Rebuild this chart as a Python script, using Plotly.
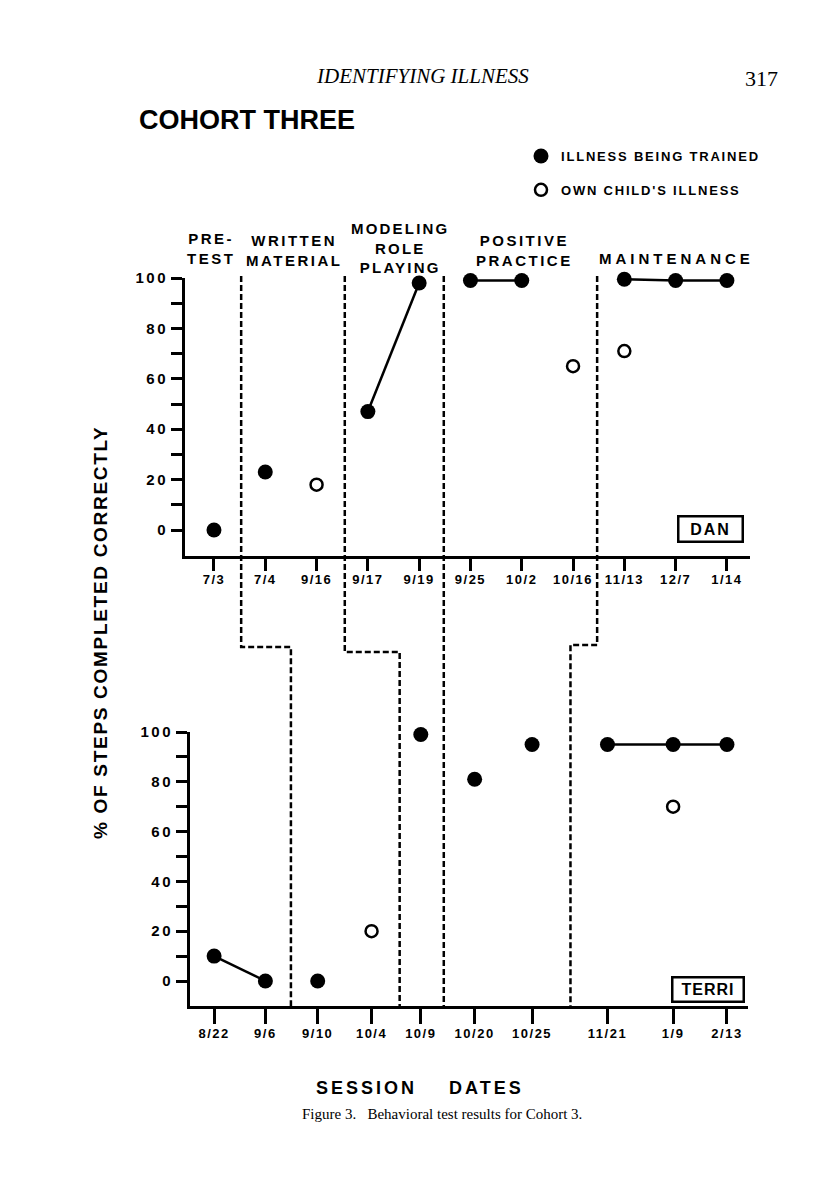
import plotly.graph_objects as go

# ---------------- data ----------------
dan_dates = ["7/3", "7/4", "9/16", "9/17", "9/19", "9/25", "10/2", "10/16", "11/13", "12/7", "1/14"]
dan_pos = [0, 1, 2, 3, 4, 5, 6, 7, 8, 9, 10]
dan_trained = [0, 23, None, 47, 98, 99, 99, None, 99.5, 99, 99]
dan_own = [None, None, 18, None, None, None, None, 65, 71, None, None]
dan_lines = [["9/17", "9/19"], ["9/25", "10/2"], ["11/13", "12/7", "1/14"]]
dan_phase_breaks = [0.53, 2.55, 4.48, 7.47]

terri_dates = ["8/22", "9/6", "9/10", "10/4", "10/9", "10/20", "10/25", "11/21", "1/9", "2/13"]
terri_pos = [0, 1.0, 2.02, 3.07, 4.03, 5.08, 6.2, 7.67, 8.95, 10.0]
terri_trained = [10, 0, 0, None, 99, 81, 95, 95, 95, 95]
terri_own = [None, None, None, 20, None, None, None, None, 70, None]
terri_lines = [["8/22", "9/6"], ["11/21", "1/9", "2/13"]]
terri_phase_breaks = [1.5, 3.62, 4.48, 6.95]

phase_names = ["PRE-<br>TEST", "WRITTEN<br>MATERIAL", "MODELING<br>ROLE<br>PLAYING",
               "POSITIVE<br>PRACTICE", "MAINTENANCE"]
y_ticks = [0, 20, 40, 60, 80, 100]
y_minor = [10, 30, 50, 70, 90]

# ---------------- page geometry helpers ----------------
W, H = 816, 1195


def px(x):
    return x / W


def py(y):
    return 1 - y / H


SANS = "Liberation Sans"
SERIF = "Liberation Serif"


def sp(text, ls):
    return f'<span style="letter-spacing:{ls}px">{text}</span>'


fig = go.Figure()


def add_panel(dates, pos, trained, own, lines, xa, ya, legend):
    lookup = dict(zip(dates, zip(pos, trained)))
    lx, ly = [], []
    for grp in lines:
        for d in grp:
            p, v = lookup[d]
            lx.append(p)
            ly.append(v)
        lx.append(None)
        ly.append(None)
    fig.add_trace(go.Scatter(x=lx, y=ly, mode="lines", line=dict(color="black", width=2.5),
                             xaxis=xa, yaxis=ya, showlegend=False, hoverinfo="skip",
                             cliponaxis=False))
    fig.add_trace(go.Scatter(x=pos, y=trained, mode="markers",
                             marker=dict(symbol="circle", size=15, color="black"),
                             name=sp("<b>ILLNESS BEING TRAINED</b>", 1.8),
                             legendgroup="a", showlegend=legend,
                             xaxis=xa, yaxis=ya, cliponaxis=False))
    fig.add_trace(go.Scatter(x=pos, y=own, mode="markers",
                             marker=dict(symbol="circle-open", size=12, color="black",
                                         line=dict(width=2.5, color="black")),
                             name=sp("<b>OWN CHILD'S ILLNESS</b>", 1.8),
                             legendgroup="b", showlegend=legend,
                             xaxis=xa, yaxis=ya, cliponaxis=False))


add_panel(dan_dates, dan_pos, dan_trained, dan_own, dan_lines, "x", "y", True)
add_panel(terri_dates, terri_pos, terri_trained, terri_own, terri_lines, "x2", "y2", False)

axis_common = dict(showline=True, linecolor="black", linewidth=3, showgrid=False,
                   zeroline=False, ticks="outside", tickcolor="black", tickwidth=3,
                   fixedrange=True, automargin=False)

yt_text = [sp(f"<b>{v}</b>", 2.5) for v in y_ticks]

fig.update_layout(
    width=W, height=H, margin=dict(l=0, r=0, t=0, b=0, pad=0, autoexpand=False),
    paper_bgcolor="white", plot_bgcolor="white",
    font=dict(family=SANS, color="black"),
    xaxis=dict(domain=[px(185), px(750)], range=[-0.565, 10.45], anchor="y",
               tickvals=dan_pos, ticktext=[sp(f"<b>{d}</b>", 1.5) for d in dan_dates],
               ticklen=12, tickfont=dict(size=13), ticklabelstandoff=-3, **axis_common),
    yaxis=dict(domain=[py(556), py(278)], range=[-10.3, 100], anchor="x",
               tickvals=y_ticks, ticktext=yt_text, ticklen=11, tickfont=dict(size=15),
               minor=dict(tickvals=y_minor, ticks="outside", ticklen=11, tickwidth=2.5,
                          tickcolor="black"),
               **axis_common),
    xaxis2=dict(domain=[px(190), px(748)], range=[-0.47, 10.41], anchor="y2",
                tickvals=terri_pos, ticktext=[sp(f"<b>{d}</b>", 1.5) for d in terri_dates],
                ticklen=15, tickfont=dict(size=13), ticklabelstandoff=-2, **axis_common),
    yaxis2=dict(domain=[py(1006), py(732)], range=[-10.04, 100], anchor="x2",
                tickvals=y_ticks, ticktext=yt_text, ticklen=11, tickfont=dict(size=15),
                minor=dict(tickvals=y_minor, ticks="outside", ticklen=11, tickwidth=2.5,
                           tickcolor="black"),
                **axis_common),
    legend=dict(x=px(521), y=py(141), xanchor="left", yanchor="top",
                font=dict(size=13, family=SANS), traceorder="grouped",
                tracegroupgap=14, bgcolor="rgba(0,0,0,0)", itemwidth=30),
)

# dashed phase-change lines that step between the two panels
step_y = [647, 652, 648, 645]
for xb_top, xb_bot, sy in zip(dan_phase_breaks, terri_phase_breaks, step_y):
    path = (f"M {xb_top},{py(276)} L {xb_top},{py(sy)} "
            f"L {xb_bot},{py(sy)} L {xb_bot},{py(1006)}")
    fig.add_shape(type="path", path=path, xref="x", yref="paper",
                  line=dict(color="black", width=2.5, dash="6px,3px"), layer="above")

annotations = []


def text(x, y, t, size, family=SANS, xanchor="center", **kw):
    annotations.append(dict(x=px(x), y=py(y), xref="paper", yref="paper", text=t,
                            showarrow=False, xanchor=xanchor, yanchor="middle",
                            font=dict(size=size, family=family, color="black"), **kw))


# page header
text(422, 76, "<i>IDENTIFYING ILLNESS</i>", 21, SERIF)
text(761, 78, "317", 22, SERIF)
text(137, 120, "<b>COHORT THREE</b>", 27, xanchor="left")

# phase labels
phase_x = [211, 294, 400, 524, 676]
phase_y = [249, 250, 248, 250, 258]
phase_ls = [2.5, 2.5, 2.2, 2.5, 4]
for name, x, y, ls in zip(phase_names, phase_x, phase_y, phase_ls):
    text(x, y, sp(f"<b>{name}</b>", ls), 15)

# panel name boxes
text(710, 529, sp("<b>DAN</b>", 2), 16, bordercolor="black", borderwidth=2.5,
     borderpad=2, bgcolor="white", width=58, height=19)
text(708, 989, sp("<b>TERRI</b>", 1), 16, bordercolor="black", borderwidth=2.5,
     borderpad=2, bgcolor="white", width=65, height=18)

# y-axis title
text(100, 633, sp("<b>% OF STEPS COMPLETED CORRECTLY</b>", 1.7), 19, textangle=-90)

# x-axis title and caption
text(420, 1088, sp("<b>SESSION\u00a0\u00a0\u00a0 DATES</b>", 3), 18)
text(442, 1114, "Figure 3.\u00a0\u00a0 Behavioral test results for Cohort 3.", 15, SERIF)

fig.update_layout(annotations=annotations)

fig.write_html("out.html", config={"displayModeBar": False},
               post_script="document.body.style.margin='0';"
                           "document.body.style.overflow='hidden';")
